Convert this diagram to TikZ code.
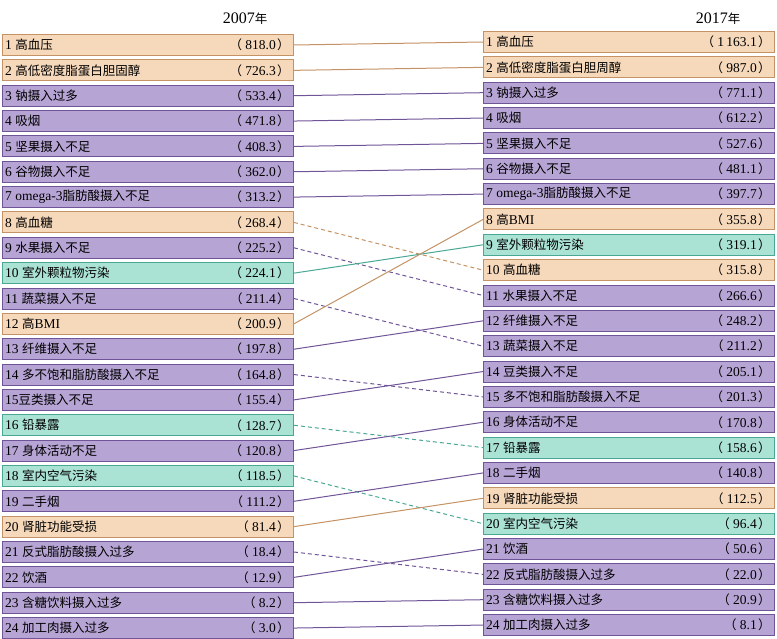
\documentclass[tikz,border=0pt]{standalone}
\usepackage{fontspec}
\setmainfont{Liberation Serif}
\newfontfamily\cjk{Noto Sans CJK SC}
\definecolor{pf}{RGB}{182,164,212}\definecolor{pd}{RGB}{112,84,152}
\definecolor{of}{RGB}{246,216,186}\definecolor{od}{RGB}{196,146,100}
\definecolor{tf}{RGB}{170,226,212}\definecolor{td}{RGB}{72,168,148}
\tikzset{
 bx/.style={minimum width=291pt,minimum height=21pt,inner sep=0pt,line width=0.9pt},
 P/.style={bx,fill=pf,draw=pd},O/.style={bx,fill=of,draw=od},T/.style={bx,fill=tf,draw=td},
 lp/.style={draw=pd,line width=1pt},lo/.style={draw=od,line width=1pt},lt/.style={draw=td,line width=1pt},
 dl/.style={dashed,dash pattern=on 4pt off 3pt}}
\newcommand\rowL[4]{\node[#1,anchor=west] (L#2) at (2,{45+(#2-1)*25.35}) {};
 \node[anchor=west,inner sep=3pt,font=\fontsize{13.5}{14}\selectfont] at (L#2.west) {#3};
 \node[anchor=east,inner sep=0pt,font=\fontsize{13.5}{14}\selectfont] at ([xshift=-4pt]L#2.east) {#4};}
\newcommand\rowR[4]{\node[#1,anchor=west] (R#2) at (483,{42+(#2-1)*25.35}) {};
 \node[anchor=west,inner sep=3pt,font=\fontsize{13.5}{14}\selectfont] at (R#2.west) {#3};
 \node[anchor=east,inner sep=0pt,font=\fontsize{13.5}{14}\selectfont] at ([xshift=-4pt]R#2.east) {#4};}
\newcommand\C[1]{{\cjk\fontsize{12.5}{14}\selectfont #1}}
\newcommand\V[1]{\C{（}\hspace{0.25em}#1\hspace{0.1em}\C{）}}
\begin{document}
\begin{tikzpicture}[x=1pt,y=-1pt]
\useasboundingbox (0,0) rectangle (777,639);
\node[font=\fontsize{16}{16}\selectfont] (h1) at (245,19) {2007\C{年}};
\node[font=\fontsize{16}{16}\selectfont] (h2) at (718,19) {2017\C{年}};
\draw[lo] (2,45) ++(293,0) coordinate (dummy);
\rowL{O}{1}{1 \C{高血压}}{\V{818.0}}
\rowL{O}{2}{2 \C{高低密度脂蛋白胆固醇}}{\V{726.3}}
\rowL{P}{3}{3 \C{钠摄入过多}}{\V{533.4}}
\rowL{P}{4}{4 \C{吸烟}}{\V{471.8}}
\rowL{P}{5}{5 \C{坚果摄入不足}}{\V{408.3}}
\rowL{P}{6}{6 \C{谷物摄入不足}}{\V{362.0}}
\rowL{P}{7}{7 omega-3\C{脂肪酸摄入不足}}{\V{313.2}}
\rowL{O}{8}{8 \C{高血糖}}{\V{268.4}}
\rowL{P}{9}{9 \C{水果摄入不足}}{\V{225.2}}
\rowL{T}{10}{10 \C{室外颗粒物污染}}{\V{224.1}}
\rowL{P}{11}{11 \C{蔬菜摄入不足}}{\V{211.4}}
\rowL{O}{12}{12 \C{高}BMI}{\V{200.9}}
\rowL{P}{13}{13 \C{纤维摄入不足}}{\V{197.8}}
\rowL{P}{14}{14 \C{多不饱和脂肪酸摄入不足}}{\V{164.8}}
\rowL{P}{15}{15\C{豆类摄入不足}}{\V{155.4}}
\rowL{T}{16}{16 \C{铅暴露}}{\V{128.7}}
\rowL{P}{17}{17 \C{身体活动不足}}{\V{120.8}}
\rowL{T}{18}{18 \C{室内空气污染}}{\V{118.5}}
\rowL{P}{19}{19 \C{二手烟}}{\V{111.2}}
\rowL{O}{20}{20 \C{肾脏功能受损}}{\V{81.4}}
\rowL{P}{21}{21 \C{反式脂肪酸摄入过多}}{\V{18.4}}
\rowL{P}{22}{22 \C{饮酒}}{\V{12.9}}
\rowL{P}{23}{23 \C{含糖饮料摄入过多}}{\V{8.2}}
\rowL{P}{24}{24 \C{加工肉摄入过多}}{\V{3.0}}
\rowR{O}{1}{1 \C{高血压}}{\V{1\,163.1}}
\rowR{O}{2}{2 \C{高低密度脂蛋白胆周醇}}{\V{987.0}}
\rowR{P}{3}{3 \C{钠摄入过多}}{\V{771.1}}
\rowR{P}{4}{4 \C{吸烟}}{\V{612.2}}
\rowR{P}{5}{5 \C{坚果摄入不足}}{\V{527.6}}
\rowR{P}{6}{6 \C{谷物摄入不足}}{\V{481.1}}
\rowR{P}{7}{7 omega-3\C{脂肪酸摄入不足}}{\V{397.7}}
\rowR{O}{8}{8 \C{高}BMI}{\V{355.8}}
\rowR{T}{9}{9 \C{室外颗粒物污染}}{\V{319.1}}
\rowR{O}{10}{10 \C{高血糖}}{\V{315.8}}
\rowR{P}{11}{11 \C{水果摄入不足}}{\V{266.6}}
\rowR{P}{12}{12 \C{纤维摄入不足}}{\V{248.2}}
\rowR{P}{13}{13 \C{蔬菜摄入不足}}{\V{211.2}}
\rowR{P}{14}{14 \C{豆类摄入不足}}{\V{205.1}}
\rowR{P}{15}{15 \C{多不饱和脂肪酸摄入不足}}{\V{201.3}}
\rowR{P}{16}{16 \C{身体活动不足}}{\V{170.8}}
\rowR{T}{17}{17 \C{铅暴露}}{\V{158.6}}
\rowR{P}{18}{18 \C{二手烟}}{\V{140.8}}
\rowR{O}{19}{19 \C{肾脏功能受损}}{\V{112.5}}
\rowR{T}{20}{20 \C{室内空气污染}}{\V{96.4}}
\rowR{P}{21}{21 \C{饮酒}}{\V{50.6}}
\rowR{P}{22}{22 \C{反式脂肪酸摄入过多}}{\V{22.0}}
\rowR{P}{23}{23 \C{含糖饮料摄入过多}}{\V{20.9}}
\rowR{P}{24}{24 \C{加工肉摄入过多}}{\V{8.1}}
\draw[lo] (L1.east) -- (R1.west);
\draw[lo] (L2.east) -- (R2.west);
\foreach \i in {3,...,7} {\draw[lp] (L\i.east) -- (R\i.west);}
\draw[lo,dl] (L8.east) -- (R10.west);
\draw[lp,dl] (L9.east) -- (R11.west);
\draw[lt] (L10.east) -- (R9.west);
\draw[lp,dl] (L11.east) -- (R13.west);
\draw[lo] (L12.east) -- (R8.west);
\draw[lp] (L13.east) -- (R12.west);
\draw[lp,dl] (L14.east) -- (R15.west);
\draw[lp] (L15.east) -- (R14.west);
\draw[lt,dl] (L16.east) -- (R17.west);
\draw[lp] (L17.east) -- (R16.west);
\draw[lt,dl] (L18.east) -- (R20.west);
\draw[lp] (L19.east) -- (R18.west);
\draw[lo] (L20.east) -- (R19.west);
\draw[lp,dl] (L21.east) -- (R22.west);
\draw[lp] (L22.east) -- (R21.west);
\draw[lp] (L23.east) -- (R23.west);
\draw[lp] (L24.east) -- (R24.west);
\end{tikzpicture}
\end{document}
